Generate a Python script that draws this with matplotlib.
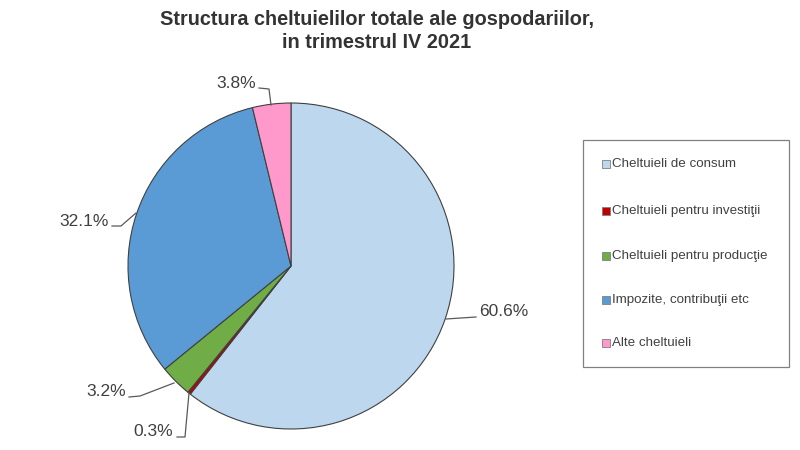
import numpy as np
import matplotlib
matplotlib.use("Agg")
import matplotlib.pyplot as plt
from matplotlib.patches import Rectangle

plt.rcParams["font.family"] = ["Liberation Sans", "DejaVu Sans"]

# data
categories = [
    "Cheltuieli de consum",
    "Cheltuieli pentru investiţii",
    "Cheltuieli pentru producţie",
    "Impozite, contribuţii etc",
    "Alte cheltuieli",
]
shares = [60.6, 0.3, 3.2, 32.1, 3.8]
pct_labels = ["60.6%", "0.3%", "3.2%", "32.1%", "3.8%"]
colors = ["#BDD7EE", "#C00000", "#70AD47", "#5B9BD5", "#FF99CC"]

H = 450  # figure height in px, axes use pixel coords with y up


def py(y):
    return H - y


fig = plt.figure(figsize=(8, 4.5), dpi=100)
ax = fig.add_axes([0, 0, 1, 1])
ax.set_aspect("equal")

cx, cy, r = 291, 266, 163
wedges, _ = ax.pie(
    shares, colors=colors, startangle=90, counterclock=False,
    center=(cx, py(cy)), radius=r, frame=True,
    wedgeprops=dict(edgecolor="#404040", linewidth=0.8),
)
ax.set_xlim(0, 800)
ax.set_ylim(0, H)
ax.axis("off")

# leader lines (pixel positions) and label anchors
leaders = {
    "60.6%": ([446, 476], [319, 317], (479, 312, "left")),
    "0.3%": ([189, 185, 177], [393, 437, 437], (173, 431, "right")),
    "3.2%": ([174, 140, 129], [383, 396, 397], (126, 391, "right")),
    "32.1%": ([136, 121, 112], [213, 226, 226], (109, 222, "right")),
    "3.8%": ([271, 269, 259], [105, 89, 88], (256, 83, "right")),
}
for lab in pct_labels:
    xs, ys, (tx, ty, ha) = leaders[lab]
    ax.plot(xs, [py(v) for v in ys], color="#595959", lw=0.9)
    ax.text(tx, py(ty), lab, ha=ha, va="center", fontsize=12.5, color="#404040")

# legend box
ax.add_patch(Rectangle((583, py(367)), 206, 227, fill=False,
                       edgecolor="#808080", linewidth=0.9))
leg_y = [164, 211, 256, 300, 343]
for lab, col, yy in zip(categories, colors, leg_y):
    ax.add_patch(Rectangle((602, py(yy) - 4), 8, 8, facecolor=col,
                           edgecolor="#7f7f7f", linewidth=0.6))
    ax.text(612, py(yy), lab, ha="left", va="center", fontsize=9.6,
            color="#404040")

fig.text(377 / 800, 1 - 31 / H,
         "Structura cheltuielilor totale ale gospodariilor,\nin trimestrul IV 2021",
         ha="center", va="center", fontsize=14.3, fontweight="bold",
         color="#333333", linespacing=1.25)

fig.savefig("out.png", dpi=100)
